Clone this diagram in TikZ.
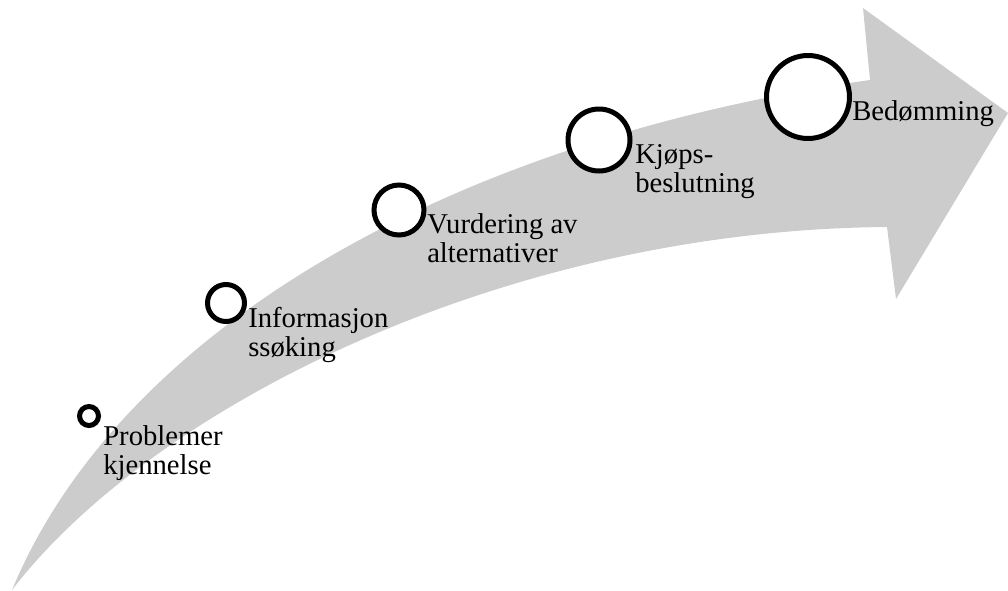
\documentclass[tikz,border=0pt]{standalone}
\usepackage{fontspec}
\setmainfont{Liberation Serif}
\definecolor{arrowgray}{HTML}{CCCCCC}
\begin{document}
\begin{tikzpicture}[x=0.75pt,y=-0.75pt,
  ring/.style={circle,draw=black,line width=3.75pt,fill=white,inner sep=0pt},
  lbl/.style={anchor=base west,inner sep=0pt,font=\fontsize{21.5}{22}\selectfont}]
\useasboundingbox (0,0) rectangle (1008,590);
% big curved arrow
\coordinate (tail) at (12,590);
\coordinate (un) at (870,80);
\coordinate (ln) at (887,227);
\coordinate (tb) at (863,8);
\coordinate (tip) at (1008,113);
\coordinate (bb) at (896,299);
\fill[arrowgray]
  (tail) .. controls (120,330) and (450,140) .. (un)
  -- (tb) -- (tip) -- (bb) -- (ln)
  .. controls (500,230) and (150,410) .. (tail)
  -- cycle;
% circles
\node[ring,minimum size=14.25pt] (c1) at (89,416) {};
\node[ring,minimum size=27.75pt] (c2) at (226,303) {};
\node[ring,minimum size=37.5pt] (c3) at (399,210) {};
\node[ring,minimum size=46.5pt] (c4) at (599,140) {};
\node[ring,minimum size=62.25pt] (c5) at (808,97) {};
% labels
\node[lbl] (t1) at (103,445) {\begin{tabular}[t]{@{}l@{}}Problemer\\kjennelse\end{tabular}};
\node[lbl] (t2) at (248,327) {\begin{tabular}[t]{@{}l@{}}Informasjon\\ssøking\end{tabular}};
\node[lbl] (t3) at (427,233) {\begin{tabular}[t]{@{}l@{}}Vurdering av\\alternativer\end{tabular}};
\node[lbl] (t4) at (635,163) {\begin{tabular}[t]{@{}l@{}}Kjøps-\\beslutning\end{tabular}};
\node[lbl] (t5) at (852,120) {Bedømming};
\end{tikzpicture}
\end{document}
